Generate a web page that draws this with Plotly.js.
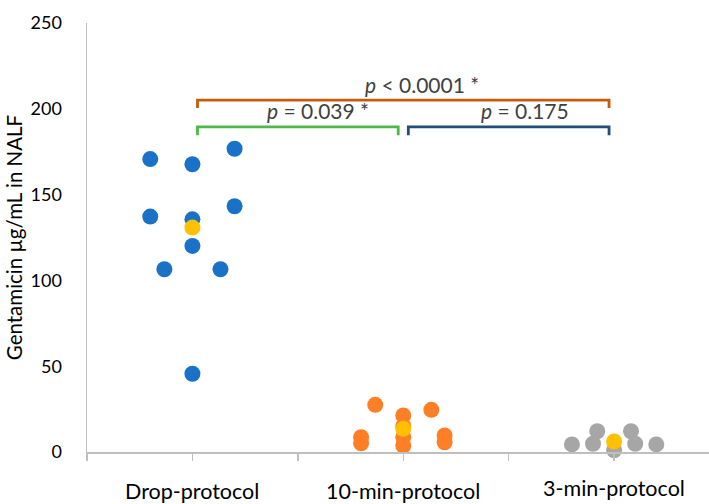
<!DOCTYPE html>
<html>
<head>
<meta charset="utf-8">
<script src="https://cdn.plot.ly/plotly-3.0.1.min.js"></script>
<style>html,body{margin:0;padding:0;background:#fff;}#chart{width:709px;height:504px;}</style>
</head>
<body>
<div id="chart"></div>
<script>
// Category labels and positions
const categories = ["Drop-protocol", "10-min-protocol", "3-min-protocol"];
const categoryX = [1, 2, 3];

// Individual samples (x = jittered position, y = gentamicin µg/mL)
const dropX = [0.80, 1.00, 1.20, 0.80, 1.20, 1.00, 1.00, 0.867, 1.133, 1.00];
const dropY = [170.7, 167.7, 176.7, 137.2, 143.2, 135.6, 120.1, 106.5, 106.5, 45.6];

const tenMinX = [1.867, 2.133, 2.00, 2.00, 1.80, 1.80, 2.00, 2.00, 2.196, 2.196];
const tenMinY = [27.5, 24.6, 21.3, 15.0, 8.6, 5.1, 8.6, 3.8, 9.6, 5.7];

const threeMinX = [2.80, 2.90, 2.92, 3.08, 3.10, 3.20, 3.00];
const threeMinY = [4.4, 4.8, 12.1, 12.1, 4.8, 4.4, 1.0];

// Group means (yellow)
const meanY = [130.8, 13.5, 6.1];

// Significance brackets
const bracketFrom = [1.024, 1.024, 2.024];
const bracketTo = [2.976, 1.976, 2.976];
const bracketTop = [205.0, 189.5, 189.5];
const bracketBottom = [200.4, 184.6, 184.6];
const bracketColors = ["#c55a11", "#4fb848", "#1f4e79"];
const bracketLabels = ["<i>p</i> < 0.0001 *", "<i>p</i> = 0.039 *", "<i>p</i> = 0.175"];
const labelX = [2.089, 1.597, 2.578];
const labelY = [214.4, 199.2, 199.2];

const FONT = "Lato, 'Open Sans', sans-serif";
const MS = 16;

const traces = [
  {x: dropX, y: dropY, type: "scatter", mode: "markers", marker: {size: MS, color: "#1a72c8", line: {width: 0}}, cliponaxis: false, hoverinfo: "y"},
  {x: tenMinX, y: tenMinY, type: "scatter", mode: "markers", marker: {size: MS, color: "#ff7f27", line: {width: 0}}, cliponaxis: false, hoverinfo: "y"},
  {x: threeMinX, y: threeMinY, type: "scatter", mode: "markers", marker: {size: MS, color: "#a6a6a6", line: {width: 0}}, cliponaxis: false, hoverinfo: "y"},
  {x: categoryX, y: meanY, type: "scatter", mode: "markers", marker: {size: MS, color: "#ffc000", line: {width: 0}}, cliponaxis: false, hoverinfo: "y"}
];

for (let i = 0; i < bracketFrom.length; i++) {
  traces.push({
    x: [bracketFrom[i], bracketFrom[i], bracketTo[i], bracketTo[i]],
    y: [bracketBottom[i], bracketTop[i], bracketTop[i], bracketBottom[i]],
    type: "scatter", mode: "lines",
    line: {color: bracketColors[i], width: 2.8},
    cliponaxis: false, hoverinfo: "skip"
  });
}

const annotations = [];
for (let i = 0; i < bracketLabels.length; i++) {
  annotations.push({
    x: labelX[i], y: labelY[i], xref: "x", yref: "y",
    text: bracketLabels[i], showarrow: false,
    font: {family: FONT, size: 21, color: "#404040"},
    xanchor: "center", yanchor: "middle"
  });
}
const catYOff = [0, 0, 3];
for (let i = 0; i < categories.length; i++) {
  annotations.push({
    x: categoryX[i], y: 0, xref: "x", yref: "y",
    yshift: -39 + catYOff[i],
    text: categories[i], showarrow: false,
    font: {family: FONT, size: 21.5, color: "#000000"},
    xanchor: "center", yanchor: "middle"
  });
}

const layout = {
  width: 709, height: 504,
  margin: {l: 87, r: 0, t: 23, b: 52, pad: 0},
  paper_bgcolor: "#ffffff", plot_bgcolor: "#ffffff",
  showlegend: false,
  font: {family: FONT, color: "#000000"},
  xaxis: {
    range: [0.5, 3.45], tick0: 0.5, dtick: 0.5,
    showticklabels: false, showgrid: false, zeroline: false,
    showline: true, linecolor: "#bfbfbf", linewidth: 1.5,
    ticks: "outside", ticklen: 7, tickcolor: "#bfbfbf", tickwidth: 1.5
  },
  yaxis: {
    range: [0, 250], tick0: 0, dtick: 50,
    showgrid: false, zeroline: false,
    showline: true, linecolor: "#bfbfbf", linewidth: 1.5,
    ticks: "", ticklabelstandoff: 20,
    tickfont: {family: FONT, size: 18, color: "#000000"},
    title: {text: "Gentamicin µg/mL in NALF", font: {family: FONT, size: 20.5, color: "#000000"}, standoff: 2}
  },
  annotations: annotations
};

Plotly.newPlot("chart", traces, layout, {displayModeBar: false, staticPlot: true});
</script>
</body>
</html>
